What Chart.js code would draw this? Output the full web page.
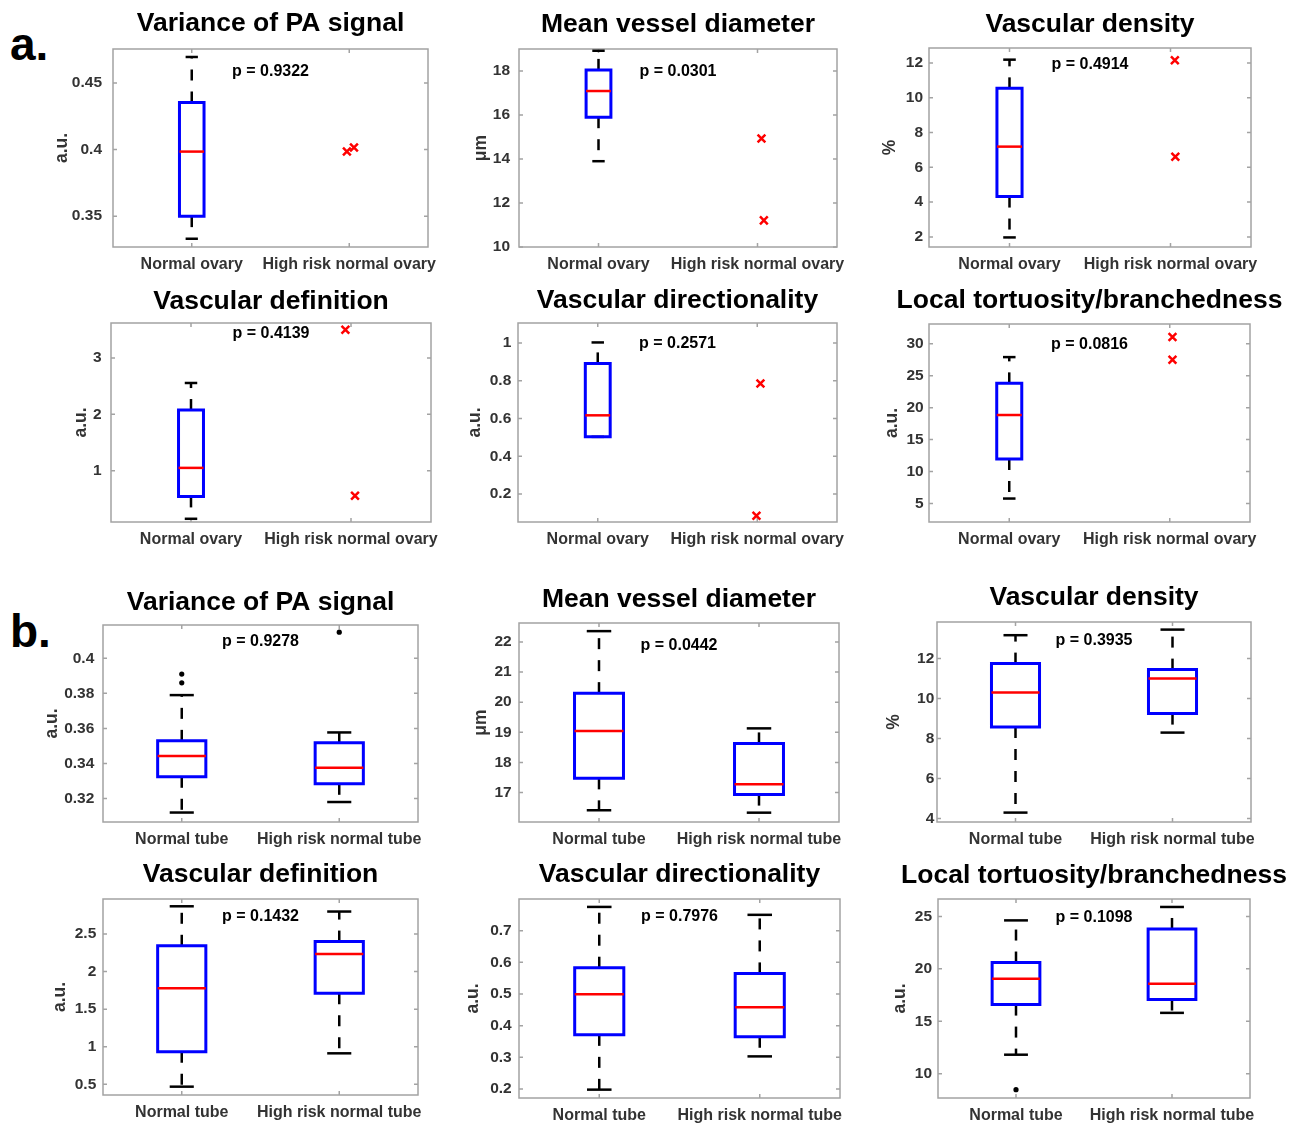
<!DOCTYPE html>
<html><head><meta charset="utf-8">
<script src="https://cdn.jsdelivr.net/npm/chart.js@4.4.1/dist/chart.umd.min.js"></script>
<style>
html,body{margin:0;padding:0;background:#fff;}
#stage{position:relative;width:1307px;height:1128px;overflow:hidden;background:#fff;}
#stage canvas{position:absolute;}
.panel-tag{position:absolute;font-family:"Liberation Sans",Arial,Helvetica,sans-serif;font-weight:bold;font-size:46px;line-height:46px;color:#000;}
</style></head><body>
<div id="stage">
<div class="panel-tag" style="left:10px;top:21px">a.</div>
<div class="panel-tag" style="left:10px;top:608px">b.</div>
</div>
<script>
// ---------------- DATA ----------------
const panelTitles = ['Variance of PA signal','Mean vessel diameter','Vascular density',
  'Vascular definition','Vascular directionality','Local tortuosity/branchedness',
  'Variance of PA signal','Mean vessel diameter','Vascular density',
  'Vascular definition','Vascular directionality','Local tortuosity/branchedness'];
const yAxisLabels = ['a.u.','\u03bcm','%','a.u.','a.u.','a.u.','a.u.','\u03bcm','%','a.u.','a.u.','a.u.'];
const pValueLabels = ['p = 0.9322','p = 0.0301','p = 0.4914','p = 0.4139','p = 0.2571','p = 0.0816',
  'p = 0.9278','p = 0.0442','p = 0.3935','p = 0.1432','p = 0.7976','p = 0.1098'];
const pValueY = [0.4587, 17.97, 11.9, 3.43, 0.996, 29.84, 0.4095, 21.89, 12.92, 2.727, 0.745, 24.85];
const ovaryCategories = ['Normal ovary','High risk normal ovary'];
const tubeCategories = ['Normal tube','High risk normal tube'];
const yTickValues = [
  [0.35,0.4,0.45],[10,12,14,16,18],[2,4,6,8,10,12],
  [1,2,3],[0.2,0.4,0.6,0.8,1],[5,10,15,20,25,30],
  [0.32,0.34,0.36,0.38,0.4],[17,18,19,20,21,22],[4,6,8,10,12],
  [0.5,1,1.5,2,2.5],[0.2,0.3,0.4,0.5,0.6,0.7],[10,15,20,25]];
const yLimits = [
  [0.3268,0.4756],[10,19],[1.42,12.86],
  [0.09,3.62],[0.052,1.106],[2.11,33.09],
  [0.3066,0.419],[16.02,22.63],[3.83,13.83],
  [0.357,2.967],[0.1716,0.80],[7.68,26.66]];
// [lower whisker, Q1, median, Q3, upper whisker]
const normalStats = [
  [0.333,0.350,0.3985,0.4354,0.4696],
  [13.9,15.9,17.09,18.05,18.92],
  [1.97,4.32,7.19,10.54,12.19],
  [0.147,0.544,1.05,2.076,2.556],
  [0.503,0.503,0.617,0.892,1.003],
  [5.78,11.97,18.85,23.8,27.91],
  [0.312,0.3324,0.3442,0.3529,0.379],
  [16.41,17.47,19.04,20.3,22.36],
  [4.3,8.58,10.3,11.75,13.17],
  [0.468,0.933,1.779,2.344,2.87],
  [0.198,0.371,0.499,0.583,0.775],
  [11.81,16.59,19.05,20.6,24.62]];
const highRiskStats = [null,null,null,null,null,null,
  [0.318,0.3284,0.3375,0.3518,0.3577],
  [16.33,16.93,17.27,18.63,19.13],
  [8.3,9.25,11.0,11.45,13.45],
  [0.912,1.712,2.233,2.40,2.80],
  [0.303,0.365,0.458,0.565,0.75],
  [15.8,17.07,18.57,23.8,25.9]];
const outlierPoints = [
  [[1.985,0.3985],[2.03,0.4015]],
  [[2.025,14.93],[2.04,11.21]],
  [[2.027,12.15],[2.03,6.61]],
  [[1.965,3.50],[2.025,0.556]],
  [[2.02,0.786],[1.995,0.085]],
  [[2.017,31.05],[2.017,27.49]],
  [[1,0.391],[1,0.386],[2,0.4149]],
  [],[],[],[],
  [[1,8.47]]];

// ---------------- LAYOUT / STYLE ----------------
const plotRects = [
  [113,49,428,247],[519,49,837,247],[929,48,1251,247],
  [111,323,431,522],[518,323,837,522],[929,324,1250,522],
  [103,625,418,822],[519,623,839,822],[937,622,1251,822],
  [103,899,418,1095],[519,899,840,1098],[938,899,1250,1098]];
const titleBaselineGap = [18,17.3,16.3,13.7,14.7,15.7,15,16.3,17,17.3,17.3,15.7];
const yTitleGap = [50.5,38,38.8,29.5,43.2,36.5,50.8,38,43.2,43.2,45.5,37.5];
const yTickPad = [11,9,6,9.3,6.7,5.3,8.7,7.3,2.7,6.7,7.3,6];
const FONT = '"Liberation Sans", Arial, Helvetica, sans-serif';
const FRAME = '#a3a3a3';
const LABEL_COLOR = '#333333';
const YW = 100, PADT = 50, PADR = 45, XH = 45;
const YTITLE_SIZE = 17.5;

const panelPlugin = {
  id: 'panelText',
  beforeDatasetsDraw(chart, args, o) {
    const {ctx, chartArea: a, scales} = chart;
    ctx.save();
    ctx.strokeStyle = FRAME; ctx.lineWidth = 1.5;
    ctx.strokeRect(a.left, a.top, a.right - a.left, a.bottom - a.top);
    ctx.beginPath();
    scales.y.ticks.forEach(t => {
      const py = scales.y.getPixelForValue(t.value);
      ctx.moveTo(a.left, py); ctx.lineTo(a.left + 4, py);
      ctx.moveTo(a.right, py); ctx.lineTo(a.right - 4, py);
    });
    scales.x.ticks.forEach(t => {
      const px = scales.x.getPixelForValue(t.value);
      ctx.moveTo(px, a.bottom); ctx.lineTo(px, a.bottom - 4);
      ctx.moveTo(px, a.top); ctx.lineTo(px, a.top + 4);
    });
    ctx.stroke();
    ctx.restore();
  },
  afterDraw(chart, args, o) {
    const {ctx, chartArea: a, scales} = chart;
    ctx.save();
    ctx.fillStyle = '#000';
    ctx.textAlign = 'center';
    ctx.textBaseline = 'alphabetic';
    ctx.font = 'bold 26.5px ' + FONT;
    ctx.fillText(o.title, (a.left + a.right) / 2, a.top - o.titleGap);
    ctx.font = 'bold 16px ' + FONT;
    ctx.textBaseline = 'middle';
    ctx.fillText(o.pText, scales.x.getPixelForValue(1.5), scales.y.getPixelForValue(o.pY));
    ctx.restore();
  }
};

function lineDs(points, color, width, dash, order) {
  return {data: points.map(p => ({x: p[0], y: p[1]})), showLine: true, borderColor: color,
    borderWidth: width, borderDash: dash, pointRadius: 0, pointHoverRadius: 0, fill: false,
    borderCapStyle: 'butt', borderJoinStyle: 'miter', clip: false, order: order};
}
function boxDatasets(center, s, halfW) {
  const [lo, q1, med, q3, hi] = s;
  const cw = halfW / 2;
  const l = center - halfW, r = center + halfW;
  return [
    lineDs([[center,q3],[center,hi]], '#000', 2.5, [11,11], 4),
    lineDs([[center,q1],[center,lo]], '#000', 2.5, [11,11], 4),
    lineDs([[center-cw,hi],[center+cw,hi]], '#000', 2.5, [], 3),
    lineDs([[center-cw,lo],[center+cw,lo]], '#000', 2.5, [], 3),
    lineDs([[l,q1],[r,q1],[r,q3],[l,q3],[l,q1],[r,q1]], '#0000ff', 3, [], 2),
    lineDs([[l,med],[r,med]], '#ff0000', 2.5, [], 1)
  ];
}

const stage = document.getElementById('stage');
for (let i = 0; i < 12; i++) {
  const [L, T, R, B] = plotRects[i];
  const cv = document.createElement('canvas');
  const W = (R - L) + YW + PADR, H = PADT + (B - T) + XH;
  cv.width = W; cv.height = H;
  cv.style.left = (L - YW) + 'px'; cv.style.top = (T - PADT) + 'px';
  cv.style.width = W + 'px'; cv.style.height = H + 'px';
  stage.appendChild(cv);
  const isTube = i >= 6;
  const cats = isTube ? tubeCategories : ovaryCategories;
  const halfW = isTube ? 0.153 : 0.078;
  let datasets = boxDatasets(1, normalStats[i], halfW);
  if (highRiskStats[i]) datasets = datasets.concat(boxDatasets(2, highRiskStats[i], halfW));
  if (outlierPoints[i].length) {
    datasets.push({
      data: outlierPoints[i].map(p => ({x: p[0], y: p[1]})), showLine: false,
      pointStyle: isTube ? 'circle' : 'crossRot',
      pointRadius: isTube ? 2.6 : 5.5, pointHoverRadius: isTube ? 2.6 : 5.5,
      pointBorderColor: isTube ? '#000' : '#ff0000',
      pointBackgroundColor: isTube ? '#000' : '#ff0000',
      pointBorderWidth: isTube ? 0 : 2.5, clip: false, order: 0
    });
  }
  const ticksList = yTickValues[i];
  new Chart(cv, {
    type: 'scatter',
    data: {datasets},
    options: {
      responsive: false, animation: false, events: [], devicePixelRatio: 1,
      layout: {padding: {top: PADT, right: PADR, left: 0, bottom: 0}},
      plugins: {
        legend: {display: false}, tooltip: {enabled: false},
        panelText: {title: panelTitles[i], titleGap: titleBaselineGap[i], pText: pValueLabels[i], pY: pValueY[i]}
      },
      scales: {
        x: {
          type: 'linear', min: 0.5, max: 2.5,
          grid: {display: false, drawTicks: false}, border: {display: false},
          afterBuildTicks: s => { s.ticks = [{value: 1}, {value: 2}]; },
          afterFit: s => { s.height = XH; },
          ticks: {callback: (v, idx) => cats[idx], padding: 8, maxRotation: 0, minRotation: 0,
            autoSkip: false, color: LABEL_COLOR, font: {family: FONT, size: 16, weight: 'bold'}}
        },
        y: {
          type: 'linear', min: yLimits[i][0], max: yLimits[i][1],
          grid: {display: false, drawTicks: false}, border: {display: false},
          afterBuildTicks: s => { s.ticks = ticksList.map(v => ({value: v})); },
          afterFit: s => { s.width = YW; },
          ticks: {callback: v => String(v), padding: yTickPad[i], autoSkip: false,
            color: LABEL_COLOR, font: {family: FONT, size: 15.5, weight: 'bold'}},
          title: {display: true, text: yAxisLabels[i], color: LABEL_COLOR,
            font: {family: FONT, size: YTITLE_SIZE, weight: 'bold'},
            padding: {top: YW - yTitleGap[i] - YTITLE_SIZE * 0.6, bottom: 0}}
        }
      }
    },
    plugins: [panelPlugin]
  });
}
</script>
</body></html>
